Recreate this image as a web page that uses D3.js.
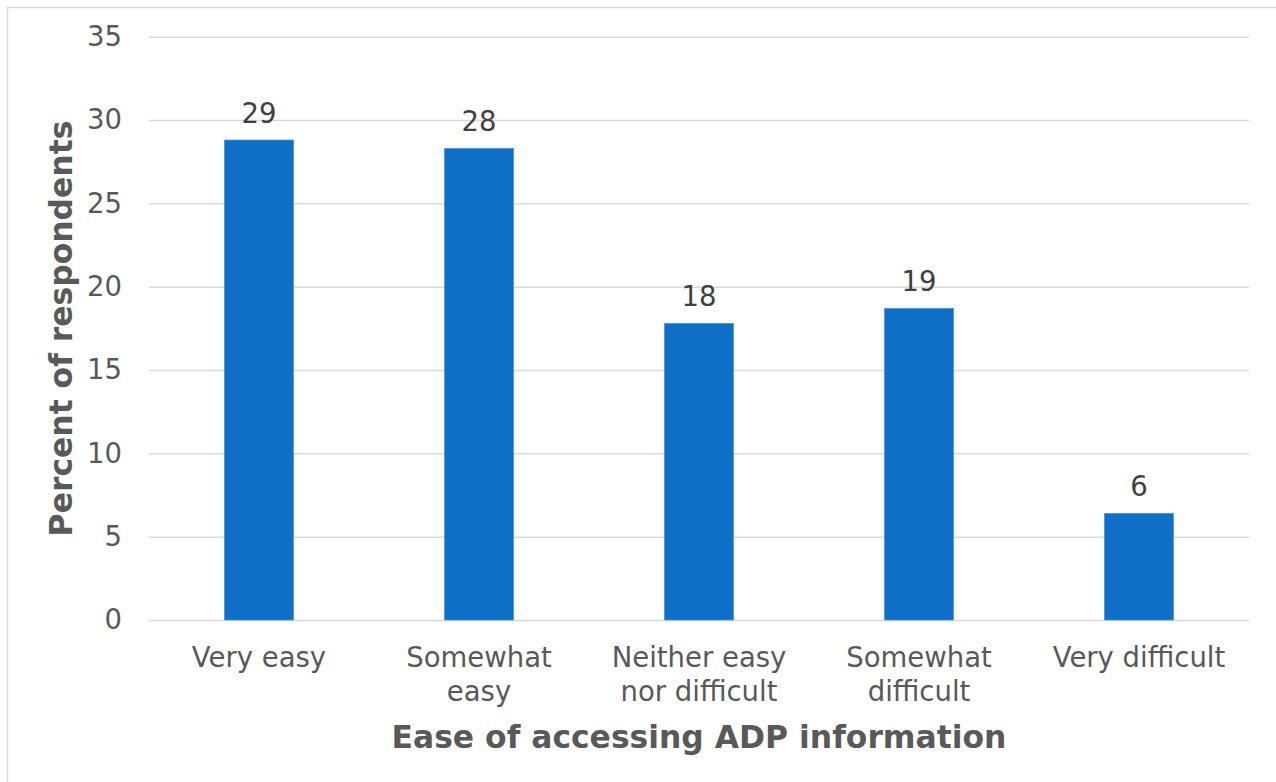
<!DOCTYPE html>
<html>
<head>
<meta charset="utf-8">
<script src="https://cdn.jsdelivr.net/npm/d3@7"></script>
<style>
  html, body { margin: 0; padding: 0; background: #ffffff; }
  svg { display: block; }
  text { font-family: "DejaVu Sans", Verdana, sans-serif; }
</style>
</head>
<body>
<svg id="chart" width="1276" height="782"></svg>
<script>
// Survey results: ease of accessing ADP information
const categories = [
  "Very easy",
  "Somewhat\neasy",
  "Neither easy\nnor difficult",
  "Somewhat\ndifficult",
  "Very difficult"
];
const percents = [28.8, 28.3, 17.8, 18.7, 6.4];
const yTicks = [0, 5, 10, 15, 20, 25, 30, 35];
const xTitle = "Ease of accessing ADP information";
const yTitle = "Percent of respondents";

const data = categories.map((c, i) => ({ category: c, value: percents[i] }));

const svg = d3.select("#chart");
const W = 1276, H = 782;
const plot = { left: 149, right: 1249, top: 36.7, bottom: 620 };

// Outer frame (top and left edges visible)
svg.append("rect")
  .attr("x", 7.5).attr("y", 7.5)
  .attr("width", W + 20).attr("height", H + 20)
  .attr("fill", "none")
  .attr("stroke", "#d9d9d9")
  .attr("stroke-width", 1.5);

const x = d3.scaleBand()
  .domain(categories)
  .range([plot.left, plot.right])
  .paddingInner(0.686)
  .paddingOuter(0.343);

const y = d3.scaleLinear()
  .domain([0, 35])
  .range([plot.bottom, plot.top]);

// Horizontal gridlines with value labels
const yAxis = d3.axisLeft(y)
  .tickValues(yTicks)
  .tickSize(-(plot.right - plot.left))
  .tickPadding(27)
  .tickFormat(d3.format("d"));

const gy = svg.append("g")
  .attr("transform", `translate(${plot.left},0)`)
  .call(yAxis);
gy.select(".domain").remove();
gy.selectAll(".tick line")
  .attr("stroke", "#d9d9d9")
  .attr("stroke-width", 1.5);
gy.selectAll(".tick text")
  .attr("fill", "#595959")
  .attr("font-size", 27.5)
  .attr("font-family", "DejaVu Sans, Verdana, sans-serif");

// Bars
svg.append("g")
  .selectAll("rect")
  .data(data)
  .join("rect")
  .attr("x", d => x(d.category))
  .attr("width", x.bandwidth())
  .attr("y", d => y(d.value))
  .attr("height", d => y(0) - y(d.value))
  .attr("fill", "#0f6fc6")
  .attr("stroke", "#4f96d8")
  .attr("stroke-width", 0.8);

// Value labels above the bars
svg.append("g")
  .selectAll("text")
  .data(data)
  .join("text")
  .attr("x", d => x(d.category) + x.bandwidth() / 2)
  .attr("y", d => y(d.value) - 17)
  .attr("text-anchor", "middle")
  .attr("font-size", 27.5)
  .attr("fill", "#404040")
  .text(d => d3.format(".0f")(d.value));

// Category labels (wrapped onto two lines where needed)
const xl = svg.append("g")
  .selectAll("text")
  .data(data)
  .join("text")
  .attr("x", d => x(d.category) + x.bandwidth() / 2)
  .attr("y", 667)
  .attr("text-anchor", "middle")
  .attr("font-size", 27.5)
  .attr("fill", "#595959");
xl.selectAll("tspan")
  .data(d => d.category.split("\n"))
  .join("tspan")
  .attr("x", function () { return d3.select(this.parentNode).attr("x"); })
  .attr("dy", (d, i) => i === 0 ? 0 : 34)
  .text(d => d);

// Axis titles
svg.append("text")
  .attr("x", (plot.left + plot.right) / 2)
  .attr("y", 748)
  .attr("text-anchor", "middle")
  .attr("font-size", 31.4)
  .attr("font-weight", "bold")
  .attr("fill", "#595959")
  .text(xTitle);

svg.append("text")
  .attr("transform", `translate(72,${(122 + 535) / 2}) rotate(-90)`)
  .attr("text-anchor", "middle")
  .attr("font-size", 31.4)
  .attr("font-weight", "bold")
  .attr("fill", "#595959")
  .text(yTitle);
</script>
</body>
</html>
